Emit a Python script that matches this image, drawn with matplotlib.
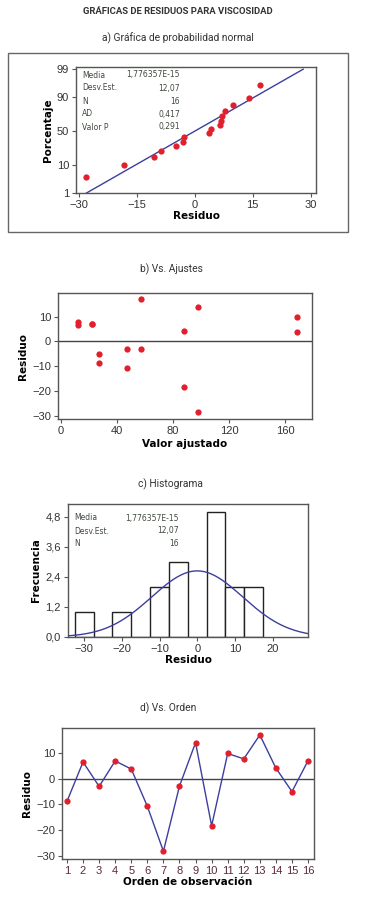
import numpy as np
import matplotlib
matplotlib.use("Agg")
import matplotlib.pyplot as plt
from matplotlib.patches import Rectangle
from statistics import NormalDist

# ---------------- data ----------------
order = list(range(1, 17))
residuals = [-8.8, 6.5, -3.0, 6.9, 3.75, -10.7, -28.2, -2.85,
             14.0, -18.3, 9.8, 7.7, 17.0, 4.1, -5.0, 7.0]
fitted = [27, 12, 47, 22.5, 168, 47, 98, 57,
          98, 88, 168, 12, 57, 88, 27, 22.5]
stat_mean = 1.776357e-15
stat_sd = 12.07
stat_n = 16
stat_ad = 0.417
stat_p = 0.291
prob_ticks = [1, 10, 50, 90, 99]
prob_xticks = [-30, -15, 0, 15, 30]
fit_xticks = [0, 40, 80, 120, 160]
res_yticks = [10, 0, -10, -20, -30]
hist_edges = [-32.5, -27.5, -22.5, -17.5, -12.5, -7.5, -2.5, 2.5, 7.5, 12.5, 17.5]
hist_xticks = [-30, -20, -10, 0, 10, 20]
hist_yticks = [0.0, 1.2, 2.4, 3.6, 4.8]

# ---------------- style ----------------
W, H = 370, 909
fig = plt.figure(figsize=(W / 100, H / 100), dpi=100)
TITLEF = ['Roboto', 'DejaVu Sans']
TICKF = ['Liberation Sans', 'DejaVu Sans']
RED = '#e0202c'
BLUE = '#3b3f9e'
SPINE = '#555555'
TXT = '#3e4a3e'

def ax_rect(l, r, t, b):
    return [l / W, 1 - b / H, (r - l) / W, (b - t) / H]

def style_axes(ax):
    for s in ax.spines.values():
        s.set_color(SPINE)
        s.set_linewidth(1.0)
    ax.tick_params(direction='out', length=3, width=0.8, color=SPINE,
                   labelsize=8, labelcolor='#333333', pad=2)
    for lab in ax.get_xticklabels() + ax.get_yticklabels():
        lab.set_family(TICKF)

def fig_text(x, y, s, **kw):
    fig.text(x / W, 1 - y / H, s, ha='center', va='center', **kw)

fig_text(178, 11, 'GRÁFICAS DE RESIDUOS PARA VISCOSIDAD',
         fontsize=6.8, fontweight='bold', family=TITLEF, color='#333333')
fig_text(178, 38, 'a) Gráfica de probabilidad normal', fontsize=7.4,
         family=TITLEF, color='#333333')
fig_text(171, 269, 'b) Vs. Ajustes', fontsize=7.4, family=TITLEF, color='#333333')
fig_text(170, 484, 'c) Histograma', fontsize=7.4, family=TITLEF, color='#333333')
fig_text(168, 708, 'd) Vs. Orden', fontsize=7.4, family=TITLEF, color='#333333')

# frame around panel a
fig.add_artist(Rectangle((8 / W, 1 - 232 / H), 340 / W, 179 / H,
                         transform=fig.transFigure, fill=False,
                         edgecolor='#666666', lw=1.0))

nd = NormalDist()

def fwd(p):
    p = np.clip(np.asarray(p, dtype=float), 1e-6, 100 - 1e-6) / 100.0
    return np.vectorize(nd.inv_cdf, otypes=[float])(p) if p.size else p

def inv(z):
    z = np.asarray(z, dtype=float)
    return np.vectorize(nd.cdf, otypes=[float])(z) * 100.0 if z.size else z

# ---------------- a) normal probability ----------------
axa = fig.add_axes(ax_rect(76, 316, 67, 193))
axa.set_yscale('function', functions=(fwd, inv))
srt = np.sort(residuals)
n = len(srt)
pct = (np.arange(1, n + 1) - 0.3) / (n + 0.4) * 100
line_p = np.linspace(1, 99, 100)
line_x = [stat_mean + stat_sd * nd.inv_cdf(p / 100) for p in line_p]
axa.plot(line_x, line_p, color=BLUE, lw=1.0, zorder=2)
axa.plot(srt, pct, 'o', color=RED, ms=4.5, mec='none', zorder=3)
axa.set_xlim(-30.8, 31.4)
axa.set_ylim(1, 99.2)
axa.set_xticks(prob_xticks)
axa.set_yticks(prob_ticks)
axa.set_yticklabels([str(t) for t in prob_ticks])
axa.yaxis.set_minor_locator(matplotlib.ticker.NullLocator())
style_axes(axa)
axa.set_ylabel('Porcentaje', fontsize=7.5, fontweight='bold', labelpad=3)
axa.set_xlabel('Residuo', fontsize=7.5, fontweight='bold', labelpad=1)
rows = [('Media', '1,776357E-15'), ('Desv.Est.', f'{stat_sd:.2f}'.replace('.', ',')),
        ('N', str(stat_n)), ('AD', f'{stat_ad:.3f}'.replace('.', ',')),
        ('Valor P', f'{stat_p:.3f}'.replace('.', ','))]
for i, (k, v) in enumerate(rows):
    y = 75 + i * 13
    fig.text(82 / W, 1 - y / H, k, fontsize=5.5, color=TXT, va='center', ha='left')
    fig.text(180 / W, 1 - y / H, v, fontsize=5.5, color=TXT, va='center', ha='right')

# ---------------- b) vs fits ----------------
axb = fig.add_axes(ax_rect(58, 312, 293, 419))
axb.axhline(0, color='#444444', lw=1.0, zorder=1)
axb.plot(fitted, residuals, 'o', color=RED, ms=4.5, mec='none', zorder=3)
axb.set_xlim(-2, 179)
axb.set_ylim(-31.2, 19.5)
axb.set_xticks(fit_xticks)
axb.set_yticks(res_yticks)
style_axes(axb)
axb.set_ylabel('Residuo', fontsize=7.5, fontweight='bold', labelpad=3)
axb.set_xlabel('Valor ajustado', fontsize=7.5, fontweight='bold', labelpad=2)

# ---------------- c) histogram ----------------
axc = fig.add_axes(ax_rect(68, 308, 504, 637))
axc.hist(residuals, bins=hist_edges, facecolor='white', edgecolor='#222222',
         lw=1.0, zorder=2)
xs = np.linspace(-34.3, 29.4, 200)
bw = hist_edges[1] - hist_edges[0]
curve = [stat_n * bw * NormalDist(stat_mean, stat_sd).pdf(x) for x in xs]
axc.plot(xs, curve, color=BLUE, lw=1.0, zorder=3)
axc.set_xlim(-34.3, 29.4)
axc.set_ylim(0, 5.32)
axc.set_xticks(hist_xticks)
axc.set_yticks(hist_yticks)
axc.set_yticklabels([f'{t:.1f}'.replace('.', ',') for t in hist_yticks])
style_axes(axc)
axc.set_ylabel('Frecuencia', fontsize=7.5, fontweight='bold', labelpad=3)
axc.set_xlabel('Residuo', fontsize=7.5, fontweight='bold', labelpad=1)
rows_c = rows[:3]
for i, (k, v) in enumerate(rows_c):
    y = 518 + i * 13
    fig.text(74 / W, 1 - y / H, k, fontsize=5.5, color=TXT, va='center', ha='left')
    fig.text(179 / W, 1 - y / H, v, fontsize=5.5, color=TXT, va='center', ha='right')

# ---------------- d) vs order ----------------
axd = fig.add_axes(ax_rect(62, 314, 728, 859))
axd.axhline(0, color='#444444', lw=1.0, zorder=1)
axd.plot(order, residuals, '-', color=BLUE, lw=1.0, zorder=2)
axd.plot(order, residuals, 'o', color=RED, ms=4.5, mec='none', zorder=3)
axd.set_xlim(0.69, 16.37)
axd.set_ylim(-31.2, 19.7)
axd.set_xticks(order)
axd.set_yticks(res_yticks)
style_axes(axd)
axd.tick_params(axis='x', labelcolor='#5a2a3a')
axd.set_ylabel('Residuo', fontsize=7.5, fontweight='bold', labelpad=3)
axd.set_xlabel('Orden de observación', fontsize=7.5, fontweight='bold', labelpad=1)

fig.savefig('out.png', dpi=100)
